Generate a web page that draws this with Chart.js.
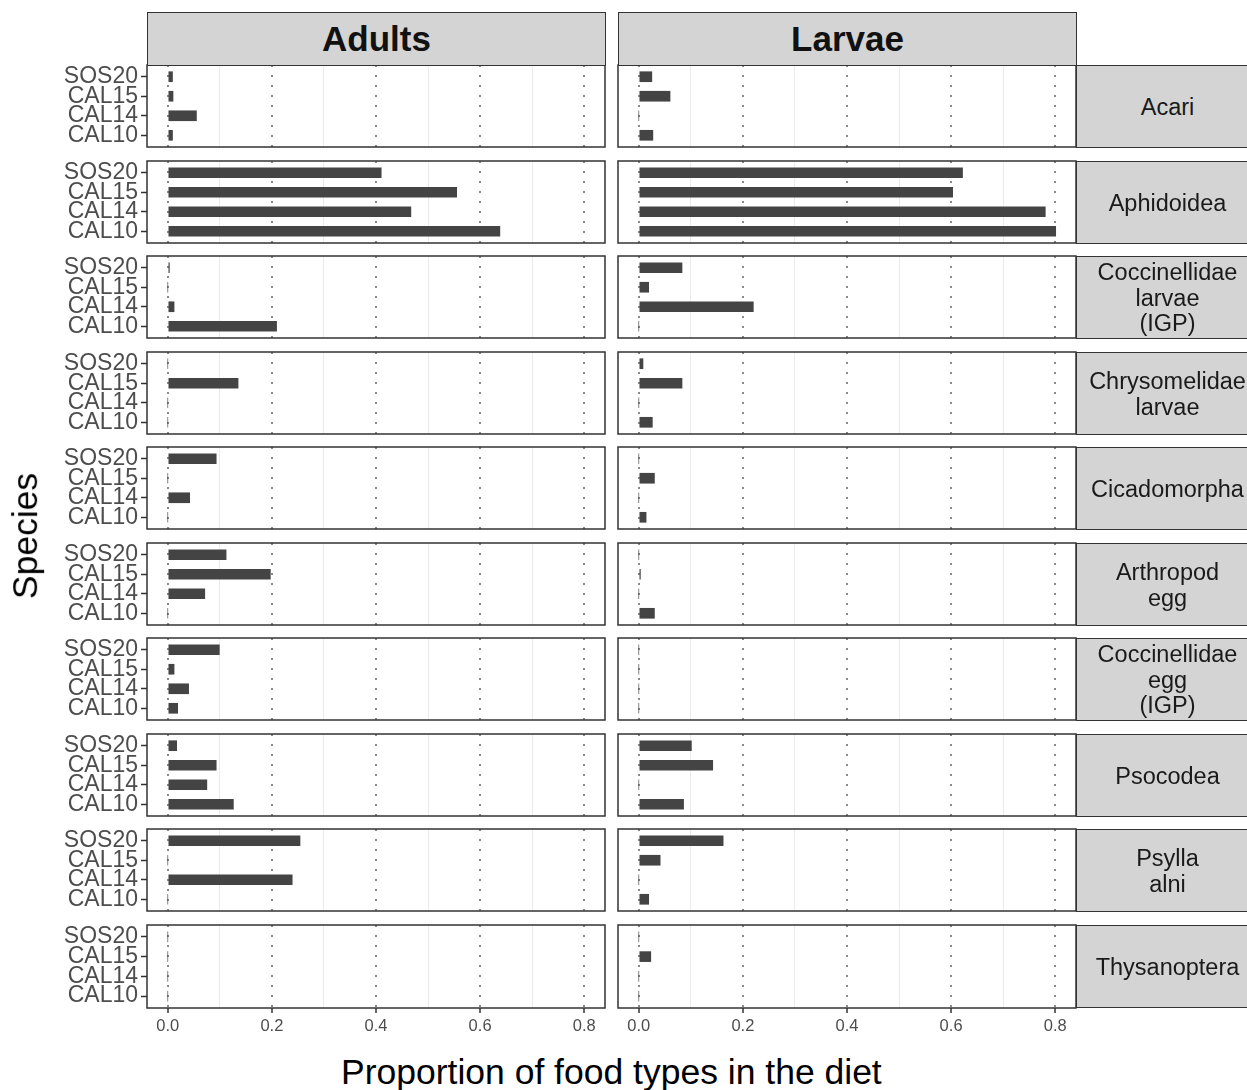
<!DOCTYPE html>
<html>
<head>
<meta charset="utf-8">
<script src="https://cdn.jsdelivr.net/npm/chart.js@4.4.1/dist/chart.umd.min.js"></script>
<style>
  body { margin: 0; background: #fff; }
  #page { position: relative; width: 1247px; height: 1090px; overflow: hidden; font-family: 'Liberation Sans', Arial, sans-serif; }
  .panel { position: absolute; }
  .strip { position: absolute; box-sizing: border-box; background: #d4d4d4; border: 1.5px solid #333;
           display: flex; align-items: center; justify-content: center; text-align: center; }
  .top-strip { font-size: 35px; font-weight: bold; color: #111; }
  .side-strip { font-size: 23.5px; line-height: 25.5px; color: #1a1a1a; border-right: none; padding-top: 3px; }
  .title { position: absolute; color: #000; font-size: 35.5px; white-space: nowrap; }
</style>
</head>
<body>
<div id="page"></div>
<script>
// Diet composition facets: stage (columns) x food type (rows)

const speciesLabels = ['SOS20', 'CAL15', 'CAL14', 'CAL10'];
const stageNames = ['Adults', 'Larvae'];
const foodTypes = [
    ['Acari'],
    ['Aphidoidea'],
    ['Coccinellidae', 'larvae', '(IGP)'],
    ['Chrysomelidae', 'larvae'],
    ['Cicadomorpha'],
    ['Arthropod', 'egg'],
    ['Coccinellidae', 'egg', '(IGP)'],
    ['Psocodea'],
    ['Psylla', 'alni'],
    ['Thysanoptera']
];

// proportions per food type, in order SOS20, CAL15, CAL14, CAL10
const adultValues = [
    [0.009, 0.010, 0.055, 0.009],
    [0.410, 0.555, 0.467, 0.638],
    [0.003, 0, 0.012, 0.209],
    [0, 0.135, 0, 0],
    [0.093, 0, 0.042, 0],
    [0.112, 0.197, 0.071, 0],
    [0.099, 0.012, 0.040, 0.019],
    [0.017, 0.093, 0.075, 0.126],
    [0.254, 0, 0.239, 0],
    [0, 0, 0, 0]
];
const larvaeValues = [
    [0.025, 0.060, 0, 0.027],
    [0.622, 0.603, 0.781, 0.801],
    [0.083, 0.019, 0.220, 0],
    [0.008, 0.083, 0, 0.026],
    [0, 0.030, 0, 0.014],
    [0, 0.003, 0, 0.030],
    [0, 0, 0, 0],
    [0.101, 0.142, 0, 0.086],
    [0.162, 0.041, 0, 0.019],
    [0, 0.023, 0, 0]
];

const xMajorTicks = [0, 0.2, 0.4, 0.6, 0.8];
const xMajorLabels = ['0.0', '0.2', '0.4', '0.6', '0.8'];
const xMinorTicks = [0.1, 0.3, 0.5, 0.7];

// layout (pixels)
const colLeft = [147, 618];
const colRight = [605, 1076];
const rowTop0 = 65, rowStep = 95.5, panelH = 82;
const xAxisH = 30;

const page = document.getElementById('page');

function isMajor(v) {
    return xMajorTicks.some(t => Math.abs(t - v) < 1e-9);
}

const panelBox = {
    id: 'panelBox',
    afterDraw(chart) {
        const a = chart.chartArea;
        const c = chart.ctx;
        c.save();
        c.strokeStyle = '#333';
        c.lineWidth = 1.5;
        c.strokeRect(a.left, a.top, a.right - a.left, a.bottom - a.top);
        c.restore();
    }
};

function makePanel(values, col, row) {
    const isLeft = col === 0;
    const isBottom = row === foodTypes.length - 1;
    const top = Math.round(rowTop0 + row * rowStep);

    const divLeft = isLeft ? 0 : colLeft[col] - 1;
    const width = colRight[col] + 1 - divLeft;
    const height = panelH + 2 + (isBottom ? xAxisH : 0);

    const div = document.createElement('div');
    div.className = 'panel';
    div.style.left = divLeft + 'px';
    div.style.top = (top - 1) + 'px';
    div.style.width = width + 'px';
    div.style.height = height + 'px';
    const canvas = document.createElement('canvas');
    div.appendChild(canvas);
    page.appendChild(div);

    new Chart(canvas, {
        type: 'bar',
        data: {
            datasets: [{
                data: values.map((v, i) => ({ x: v, y: i })),
                backgroundColor: '#444444',
                borderWidth: 0,
                barThickness: 10
            }]
        },
        options: {
            indexAxis: 'y',
            animation: false,
            responsive: true,
            maintainAspectRatio: false,
            layout: {
                padding: { top: 1, right: 1, bottom: isBottom ? 0 : 1, left: isLeft ? 0 : 1 }
            },
            plugins: {
                legend: { display: false },
                tooltip: { enabled: false }
            },
            scales: {
                x: {
                    type: 'linear',
                    min: -0.04,
                    max: 0.84,
                    afterBuildTicks: function(scale) {
                        scale.ticks = xMajorTicks.concat(xMinorTicks)
                            .sort((a, b) => a - b)
                            .map(v => ({ value: v }));
                    },
                    afterFit: function(scale) {
                        scale.height = isBottom ? xAxisH : 0;
                        scale.paddingLeft = 0;
                        scale.paddingRight = 0;
                    },
                    grid: {
                        drawTicks: isBottom,
                        tickLength: 5,
                        tickWidth: 1.5,
                        color: ctx => (ctx.tick && isMajor(ctx.tick.value)) ? '#8a8a8a' : '#ebebeb',
                        lineWidth: ctx => (ctx.tick && isMajor(ctx.tick.value)) ? 2 : 1,
                        tickColor: ctx => (ctx.tick && isMajor(ctx.tick.value)) ? '#333' : 'rgba(0,0,0,0)'
                    },
                    border: {
                        display: false,
                        dash: ctx => (ctx.tick && isMajor(ctx.tick.value)) ? [2, 8] : []
                    },
                    ticks: {
                        display: isBottom,
                        autoSkip: false,
                        maxRotation: 0,
                        padding: 4,
                        color: '#4d4d4d',
                        font: { family: "'Liberation Sans', Arial, sans-serif", size: 16.5 },
                        callback: function(value) {
                            const k = xMajorTicks.findIndex(t => Math.abs(t - value) < 1e-9);
                            return k >= 0 ? xMajorLabels[k] : '';
                        }
                    }
                },
                y: {
                    type: 'linear',
                    min: -0.6,
                    max: 3.6,
                    offset: false,
                    reverse: true,
                    display: isLeft,
                    afterBuildTicks: function(scale) {
                        scale.ticks = speciesLabels.map((_, i) => ({ value: i }));
                    },
                    afterFit: function(scale) {
                        scale.width = isLeft ? colLeft[0] : 0;
                        scale.paddingTop = 0;
                        scale.paddingBottom = 0;
                    },
                    grid: {
                        offset: false,
                        drawOnChartArea: false,
                        drawTicks: true,
                        tickLength: 6,
                        tickWidth: 1.5,
                        tickColor: '#333'
                    },
                    border: { display: false },
                    ticks: {
                        autoSkip: false,
                        padding: 3,
                        color: '#4d4d4d',
                        font: { family: "'Liberation Sans', Arial, sans-serif", size: 23 },
                        callback: function(value) {
                            return speciesLabels[value];
                        }
                    }
                }
            }
        },
        plugins: [panelBox]
    });
}

// panels
foodTypes.forEach((_, row) => {
    makePanel(adultValues[row], 0, row);
    makePanel(larvaeValues[row], 1, row);
});

// column strips
stageNames.forEach((name, col) => {
    const s = document.createElement('div');
    s.className = 'strip top-strip';
    s.style.left = colLeft[col] + 'px';
    s.style.top = '12px';
    s.style.width = (colRight[col] - colLeft[col] + 1) + 'px';
    s.style.height = '54px';
    s.textContent = name;
    page.appendChild(s);
});

// row strips
foodTypes.forEach((lines, row) => {
    const top = Math.round(rowTop0 + row * rowStep);
    const s = document.createElement('div');
    s.className = 'strip side-strip';
    s.style.left = (colRight[1]) + 'px';
    s.style.top = (top - 0.5) + 'px';
    s.style.width = '182px';
    s.style.height = (panelH + 1) + 'px';
    s.innerHTML = lines.join('<br>');
    page.appendChild(s);
});

// axis titles
const xt = document.createElement('div');
xt.className = 'title';
xt.textContent = 'Proportion of food types in the diet';
xt.style.top = '1052px';
xt.style.lineHeight = '40px';
page.appendChild(xt);
xt.style.left = ((colLeft[0] + colRight[1]) / 2 - xt.offsetWidth / 2) + 'px';

const yt = document.createElement('div');
yt.className = 'title';
yt.textContent = 'Species';
yt.style.lineHeight = '40px';
page.appendChild(yt);
const midY = rowTop0 + ((foodTypes.length - 1) * rowStep + panelH) / 2;
yt.style.left = (25 - yt.offsetWidth / 2) + 'px';
yt.style.top = (midY - 20) + 'px';
yt.style.transform = 'rotate(-90deg)';
</script>
</body>
</html>
